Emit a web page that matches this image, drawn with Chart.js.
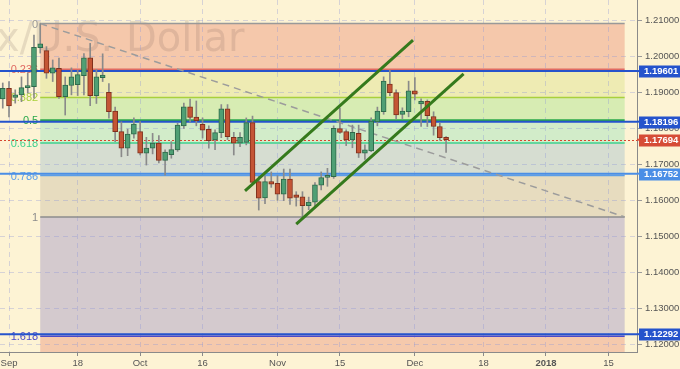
<!DOCTYPE html>
<html lang="en">
<head>
<meta charset="UTF-8">
<title>EUR/USD daily</title>
<script src="https://cdn.jsdelivr.net/npm/chart.js"></script>
<style>
  html, body { margin: 0; padding: 0; background: #fdf3d4; }
</style>
</head>
<body>
<canvas id="chart" width="680" height="369"></canvas>
<script>
// trading day number, 0 = 1 Sep 2017 (weekdays only)
var days = [-1, 0, 1, 2, 3, 4, 5, 6, 7, 8, 9, 10, 11, 12, 13, 14, 15, 16, 17, 18, 19,
  20, 21, 22, 23, 24, 25, 26, 27, 28, 29, 30, 31, 32, 33, 34, 35, 36, 37, 38, 39,
  40, 41, 42, 43, 44, 45, 46, 47, 48, 49, 50, 51, 52, 53, 54, 55, 56, 57, 58, 59,
  60, 61, 62, 63, 64, 65, 66, 67, 68, 69, 70];
var opens = [1.1883, 1.1912, 1.1887, 1.1894, 1.1914, 1.1917, 1.2025, 1.2017, 1.1954, 1.1968, 1.1889,
  1.1920, 1.1922, 1.1947, 1.1997, 1.1892, 1.1942, 1.1901, 1.1849, 1.1792, 1.1746,
  1.1785, 1.1792, 1.1732, 1.1746, 1.1760, 1.1712, 1.1728, 1.1741, 1.1808, 1.1861,
  1.1832, 1.1812, 1.1798, 1.1769, 1.1789, 1.1855, 1.1776, 1.1760, 1.1762, 1.1817,
  1.1653, 1.1608, 1.1653, 1.1648, 1.1618, 1.1660, 1.1616, 1.1611, 1.1586, 1.1596,
  1.1643, 1.1665, 1.1667, 1.1800, 1.1792, 1.1769, 1.1787, 1.1732, 1.1738, 1.1819,
  1.1847, 1.1924, 1.1900, 1.1840, 1.1847, 1.1905, 1.1869, 1.1876, 1.1834, 1.1806, 1.1776];
var highs = [1.1927, 1.1931, 1.1908, 1.1944, 1.1955, 1.2060, 1.2092, 1.2028, 1.1991, 1.1996, 1.1944,
  1.1969, 1.1962, 1.2009, 1.2037, 1.1965, 1.2008, 1.1925, 1.1860, 1.1819, 1.1799,
  1.1830, 1.1820, 1.1776, 1.1787, 1.1781, 1.1741, 1.1764, 1.1815, 1.1871, 1.1882,
  1.1877, 1.1830, 1.1808, 1.1797, 1.1867, 1.1867, 1.1790, 1.1789, 1.1830, 1.1835,
  1.1668, 1.1669, 1.1680, 1.1670, 1.1688, 1.1688, 1.1625, 1.1625, 1.1610, 1.1650,
  1.1680, 1.1690, 1.1808, 1.1857, 1.1797, 1.1810, 1.1810, 1.1755, 1.1830, 1.1860,
  1.1944, 1.1963, 1.1908, 1.1858, 1.1932, 1.1942, 1.1883, 1.1880, 1.1847, 1.1816, 1.1778];
var lows = [1.1857, 1.1833, 1.1871, 1.1875, 1.1899, 1.1885, 1.2010, 1.1940, 1.1931, 1.1884, 1.1838,
  1.1894, 1.1892, 1.1894, 1.1864, 1.1870, 1.1931, 1.1829, 1.1764, 1.1722, 1.1725,
  1.1774, 1.1727, 1.1699, 1.1730, 1.1705, 1.1671, 1.1718, 1.1737, 1.1801, 1.1819,
  1.1808, 1.1774, 1.1746, 1.1742, 1.1775, 1.1770, 1.1727, 1.1750, 1.1755, 1.1650,
  1.1574, 1.1592, 1.1637, 1.1601, 1.1600, 1.1590, 1.1585, 1.1555, 1.1575, 1.1580,
  1.1630, 1.1640, 1.1662, 1.1787, 1.1753, 1.1747, 1.1720, 1.1715, 1.1736, 1.1808,
  1.1840, 1.1892, 1.1827, 1.1828, 1.1833, 1.1880, 1.1806, 1.1806, 1.1782, 1.1768, 1.1734];
var closes = [1.1912, 1.1863, 1.1894, 1.1914, 1.1920, 1.2026, 1.2036, 1.1954, 1.1969, 1.1889, 1.1921,
  1.1944, 1.1950, 1.1997, 1.1892, 1.1944, 1.1949, 1.1847, 1.1792, 1.1746, 1.1785,
  1.1813, 1.1732, 1.1746, 1.1760, 1.1712, 1.1735, 1.1742, 1.1810, 1.1861, 1.1831,
  1.1822, 1.1796, 1.1767, 1.1789, 1.1855, 1.1778, 1.1760, 1.1776, 1.1817, 1.1651,
  1.1607, 1.1653, 1.1646, 1.1618, 1.1660, 1.1607, 1.1609, 1.1586, 1.1596, 1.1644,
  1.1664, 1.1669, 1.1801, 1.1790, 1.1769, 1.1790, 1.1732, 1.1741, 1.1821, 1.1849,
  1.1932, 1.1900, 1.1838, 1.1849, 1.1905, 1.1896, 1.1876, 1.1836, 1.1806, 1.1775, 1.17694];

var xTickDays = [0, 11, 21, 31, 43, 53, 65, 76, 86, 96];
var xTickLabels = ['Sep', '18', 'Oct', '16', 'Nov', '15', 'Dec', '18', '2018', '15'];
var yTicks = [1.12, 1.13, 1.14, 1.15, 1.16, 1.17, 1.18, 1.19, 1.20, 1.21];

// fibonacci retracement: Sep 8 high -> Nov 7 low
var fibHigh = 1.2092;
var fibLow = 1.1555;
var fibFromDay = 5;
var fibToDay = 98.6;
var fibRatios = [0, 0.236, 0.382, 0.5, 0.618, 0.786, 1, 1.618];
var fibLabels = ['0', '0.236', '0.382', '0.5', '0.618', '0.786', '1', '1.618'];
var fibLineColors = ['#999999', '#e06a62', '#a9d03c', '#2aa84a', '#3fd08e', '#5b9ee8', '#8c8c8c', '#4a4ac8'];
var fibZoneColors = ['#f5c8ab', '#eeebb3', '#d7ecb3', '#d2ecc9', '#d6ddd1', '#e7dcbf', '#d4cace', '#f5c9ac'];

// horizontal levels with price boxes
var levels = [1.19601, 1.18196, 1.16752, 1.12292];
var levelColors = ['#2553cc', '#2553cc', '#4a8ee6', '#2553cc'];
var lastPrice = 1.17694;

// channel lines
var channelUpper = [{x: 37.8, y: 1.1627}, {x: 64.7, y: 1.2046}];
var channelLower = [{x: 46.0, y: 1.1535}, {x: 72.8, y: 1.1952}];

var wicks = days.map(function (d, i) { return {x: d, y: [lows[i], highs[i]]}; });
var bodies = days.map(function (d, i) { return {x: d, y: [opens[i], closes[i]]}; });
var fibDiag = [{x: fibFromDay, y: fibHigh}, {x: fibToDay, y: fibLow}];

function isUp(i) { return closes[i] >= opens[i]; }

var drawings = {
  id: 'drawings',
  beforeDraw: function (chart) {
    var c = chart.ctx, a = chart.chartArea, xs = chart.scales.x, ys = chart.scales.y;
    c.save();
    c.fillStyle = '#fdf3d4';
    c.fillRect(0, 0, chart.width, chart.height);
    c.beginPath();
    c.rect(a.left, a.top, a.right - a.left, a.bottom - a.top);
    c.clip();
    var x0 = xs.getPixelForValue(fibFromDay), x1 = xs.getPixelForValue(fibToDay);
    var range = fibHigh - fibLow;
    for (var i = 0; i < fibRatios.length; i++) {
      var yA = ys.getPixelForValue(fibHigh - fibRatios[i] * range);
      var yB = i + 1 < fibRatios.length ? ys.getPixelForValue(fibHigh - fibRatios[i + 1] * range) : a.bottom;
      c.fillStyle = fibZoneColors[i];
      c.fillRect(x0, yA, x1 - x0, yB - yA);
    }
    // watermark
    c.font = '40px "DejaVu Sans"';
    c.fillStyle = 'rgba(110, 90, 80, 0.16)';
    c.textBaseline = 'alphabetic';
    c.fillText('x/U.S. Dollar', -4, 51);
    c.restore();
  },
  beforeDatasetsDraw: function (chart) {
    var c = chart.ctx, a = chart.chartArea, xs = chart.scales.x, ys = chart.scales.y;
    var x0 = xs.getPixelForValue(fibFromDay), x1 = xs.getPixelForValue(fibToDay);
    var range = fibHigh - fibLow;
    c.save();
    c.beginPath();
    c.rect(a.left, a.top, a.right - a.left, a.bottom - a.top);
    c.clip();
    // fib levels
    for (var i = 0; i < fibRatios.length; i++) {
      var y = ys.getPixelForValue(fibHigh - fibRatios[i] * range);
      c.strokeStyle = fibLineColors[i];
      c.lineWidth = (fibRatios[i] === 0.5) ? 2 : 1.5;
      c.beginPath();
      c.moveTo(x0, y);
      c.lineTo(x1, y);
      c.stroke();
      c.font = '11px Arial';
      c.fillStyle = fibLineColors[i];
      c.textAlign = 'right';
      c.textBaseline = 'middle';
      c.fillText(fibLabels[i], x0 - 2, y + 1);
    }
    // last price dotted line
    var yl = Math.round(ys.getPixelForValue(lastPrice)) + 0.5;
    c.strokeStyle = '#d6452e';
    c.lineWidth = 1;
    c.setLineDash([2, 2]);
    c.beginPath();
    c.moveTo(a.left, yl);
    c.lineTo(a.right, yl);
    c.stroke();
    c.setLineDash([]);
    // blue levels
    for (var j = 0; j < levels.length; j++) {
      var yv = ys.getPixelForValue(levels[j]);
      c.strokeStyle = levelColors[j];
      c.lineWidth = 2;
      c.beginPath();
      c.moveTo(a.left, yv);
      c.lineTo(a.right, yv);
      c.stroke();
    }
    c.restore();
  },
  afterDraw: function (chart) {
    var c = chart.ctx, a = chart.chartArea, ys = chart.scales.y;
    var boxes = levels.map(function (v, i) { return {v: v, col: levelColors[i]}; });
    boxes.push({v: lastPrice, col: '#d64c36'});
    c.save();
    c.font = 'bold 9.5px Arial';
    c.textAlign = 'left';
    c.textBaseline = 'middle';
    boxes.forEach(function (b) {
      var y = ys.getPixelForValue(b.v);
      c.fillStyle = b.col;
      c.fillRect(a.right, y - 1, 4, 2);
      c.fillRect(a.right + 2, Math.round(y) - 5.5, chart.width - a.right - 2, 12);
      c.fillStyle = '#ffffff';
      c.fillText(b.v.toFixed(5), a.right + 7, y + 0.5);
    });
    c.restore();
  }
};

var ctx = document.getElementById('chart').getContext('2d');
new Chart(ctx, {
  type: 'bar',
  data: {
    datasets: [{
      type: 'line',
      data: fibDiag,
      borderColor: '#9c9c9c',
      borderWidth: 1.5,
      borderDash: [7, 5],
      pointRadius: 0,
      order: 5
    }, {
      data: wicks,
      backgroundColor: '#8a8a8a',
      barThickness: 1,
      grouped: false,
      order: 4
    }, {
      data: bodies,
      backgroundColor: function (c) { return isUp(c.dataIndex) ? '#4f9f74' : '#c45535'; },
      borderColor: function (c) { return isUp(c.dataIndex) ? '#2f6a4b' : '#80301c'; },
      borderWidth: 1,
      borderSkipped: false,
      barThickness: 5,
      minBarLength: 2,
      grouped: false,
      order: 3
    }, {
      type: 'line',
      data: channelUpper,
      borderColor: '#357a1c',
      borderWidth: 3,
      pointRadius: 0,
      order: 1
    }, {
      type: 'line',
      data: channelLower,
      borderColor: '#357a1c',
      borderWidth: 3,
      pointRadius: 0,
      order: 1
    }]
  },
  options: {
    responsive: false,
    animation: false,
    devicePixelRatio: 1,
    layout: { padding: 0 },
    plugins: { legend: { display: false }, tooltip: { enabled: false } },
    scales: {
      x: {
        type: 'linear',
        offset: false,
        min: -1.4414,
        max: 100.577,
        afterBuildTicks: function (s) { s.ticks = xTickDays.map(function (v) { return {value: v}; }); },
        afterFit: function (s) { s.height = 17; s.paddingLeft = 0; s.paddingRight = 0; },
        ticks: {
          autoSkip: false,
          maxRotation: 0,
          padding: 2,
          color: '#555555',
          font: function (c) { return {family: 'Arial', size: 9.5, weight: c.index === 8 ? 'bold' : 'normal'}; },
          callback: function (v, i) { return xTickLabels[i]; }
        },
        grid: { offset: false, color: 'rgba(140, 150, 215, 0.35)', tickColor: '#8a8a8a', tickLength: 4 },
        border: { color: '#8a8a8a', dash: [5, 4] }
      },
      y: {
        position: 'right',
        min: 1.117972,
        max: 1.215750,
        afterBuildTicks: function (s) { s.ticks = yTicks.map(function (v) { return {value: v}; }); },
        afterFit: function (s) { s.width = 43; s.paddingTop = 0; s.paddingBottom = 0; },
        ticks: {
          padding: 3,
          color: '#555555',
          font: { family: 'Arial', size: 9.5 },
          callback: function (v) { return v.toFixed(5); }
        },
        grid: { color: 'rgba(140, 150, 215, 0.35)', tickColor: '#9a9a9a', tickLength: 5 },
        border: { color: '#8a8a8a', dash: [5, 4] }
      }
    }
  },
  plugins: [drawings]
});
</script>
</body>
</html>
